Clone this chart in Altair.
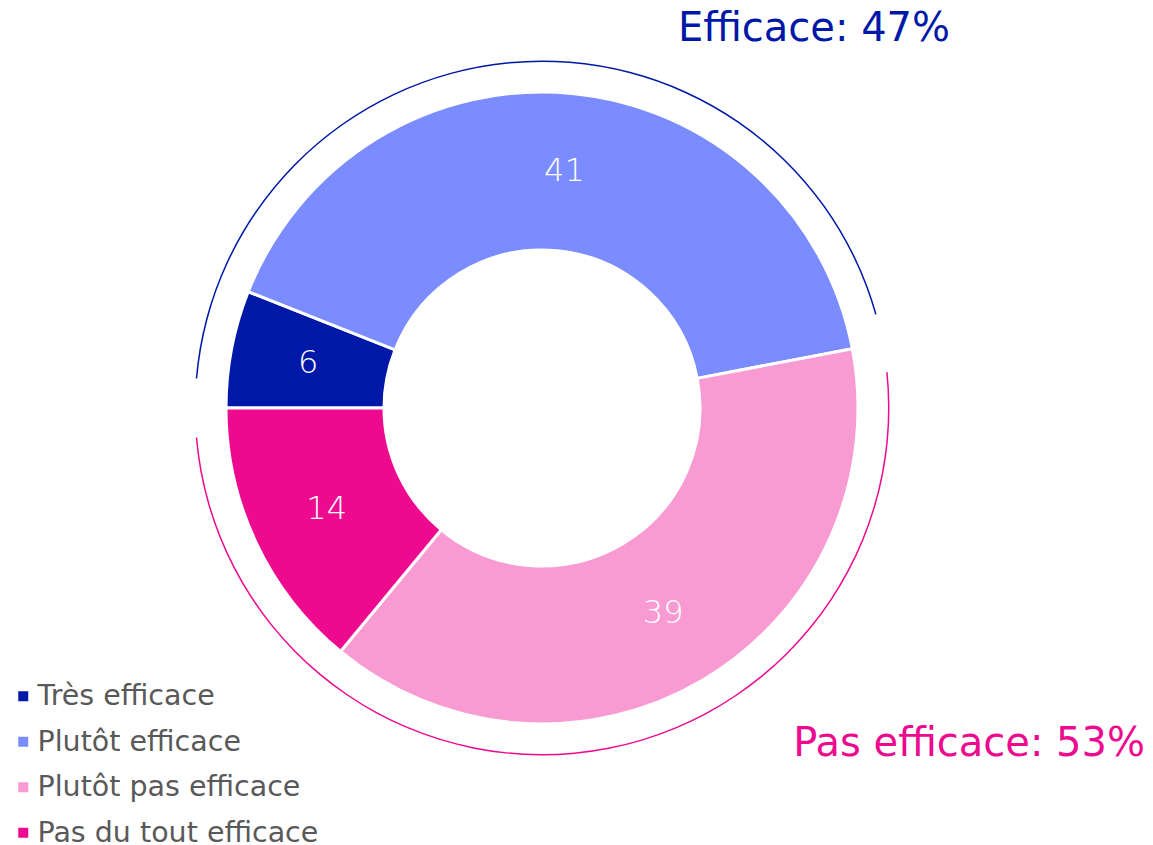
import altair as alt
import pandas as pd
import math

categories = ["Très efficace", "Plutôt efficace", "Plutôt pas efficace", "Pas du tout efficace"]
values = [6, 41, 39, 14]
colors = ["#0018A8", "#7B8CFF", "#F99BD3", "#EE0A8F"]

group_names = ["Efficace: 47%", "Pas efficace: 53%"]
group_values = [47, 53]
group_colors = ["#0018A8", "#EE0A8F"]

df = pd.DataFrame({"cat": categories, "value": values, "idx": list(range(len(values)))})
dg = pd.DataFrame({"grp": group_names, "value": group_values, "idx": [0, 1]})

CX, CY = 534, 400
FONT = "DejaVu Sans"
theta_scale = alt.Scale(domain=[0, 100], range=[-math.pi / 2, 3 * math.pi / 2])

donut = alt.Chart(df).mark_arc(
    innerRadius=158, outerRadius=316, stroke="white", strokeWidth=3
).encode(
    theta=alt.Theta("value:Q", stack=True, scale=theta_scale),
    color=alt.Color(
        "cat:N",
        scale=alt.Scale(domain=categories, range=colors),
        legend=alt.Legend(
            title=None, orient="none", legendX=1, legendY=674, padding=0,
            symbolType="square", symbolSize=100, symbolStrokeWidth=0,
            labelFont=FONT, labelFontSize=28.5, labelColor="#595959",
            labelOffset=0, rowPadding=16.5, labelLimit=0,
        ),
    ),
    order=alt.Order("idx:Q"),
    x=alt.value(CX), y=alt.value(CY),
)

labels = alt.Chart(df).mark_text(
    radius=238, font=FONT, fontSize=32, fontWeight=200, color="white", baseline="middle"
).encode(
    theta=alt.Theta("value:Q", stack=True, scale=theta_scale),
    text=alt.Text("value:Q"),
    order=alt.Order("idx:Q"),
    x=alt.value(CX), y=alt.value(CY),
)

ring = alt.Chart(dg).mark_arc(
    innerRadius=346, outerRadius=347.5, padAngle=0.12
).encode(
    theta=alt.Theta("value:Q", stack=True, scale=theta_scale),
    fill=alt.Fill("grp:N", scale=alt.Scale(domain=group_names, range=group_colors), legend=None),
    order=alt.Order("idx:Q"),
    x=alt.value(CX), y=alt.value(CY),
)

title_top = alt.Chart(dg.iloc[[0]]).mark_text(
    font=FONT, fontSize=40, color="#0018A8", align="center", baseline="middle"
).encode(text="grp:N", x=alt.value(806), y=alt.value(21))

title_bot = alt.Chart(dg.iloc[[1]]).mark_text(
    font=FONT, fontSize=40, color="#EE0A8F", align="right", baseline="middle"
).encode(text="grp:N", x=alt.value(1137), y=alt.value(736))

chart = alt.layer(ring, donut, labels, title_top, title_bot).resolve_scale(
    color="independent"
).properties(
    width=1100, height=800, padding=0
).configure_view(stroke=None)

chart.save("out.html", embed_options={"renderer": "svg", "actions": False})
